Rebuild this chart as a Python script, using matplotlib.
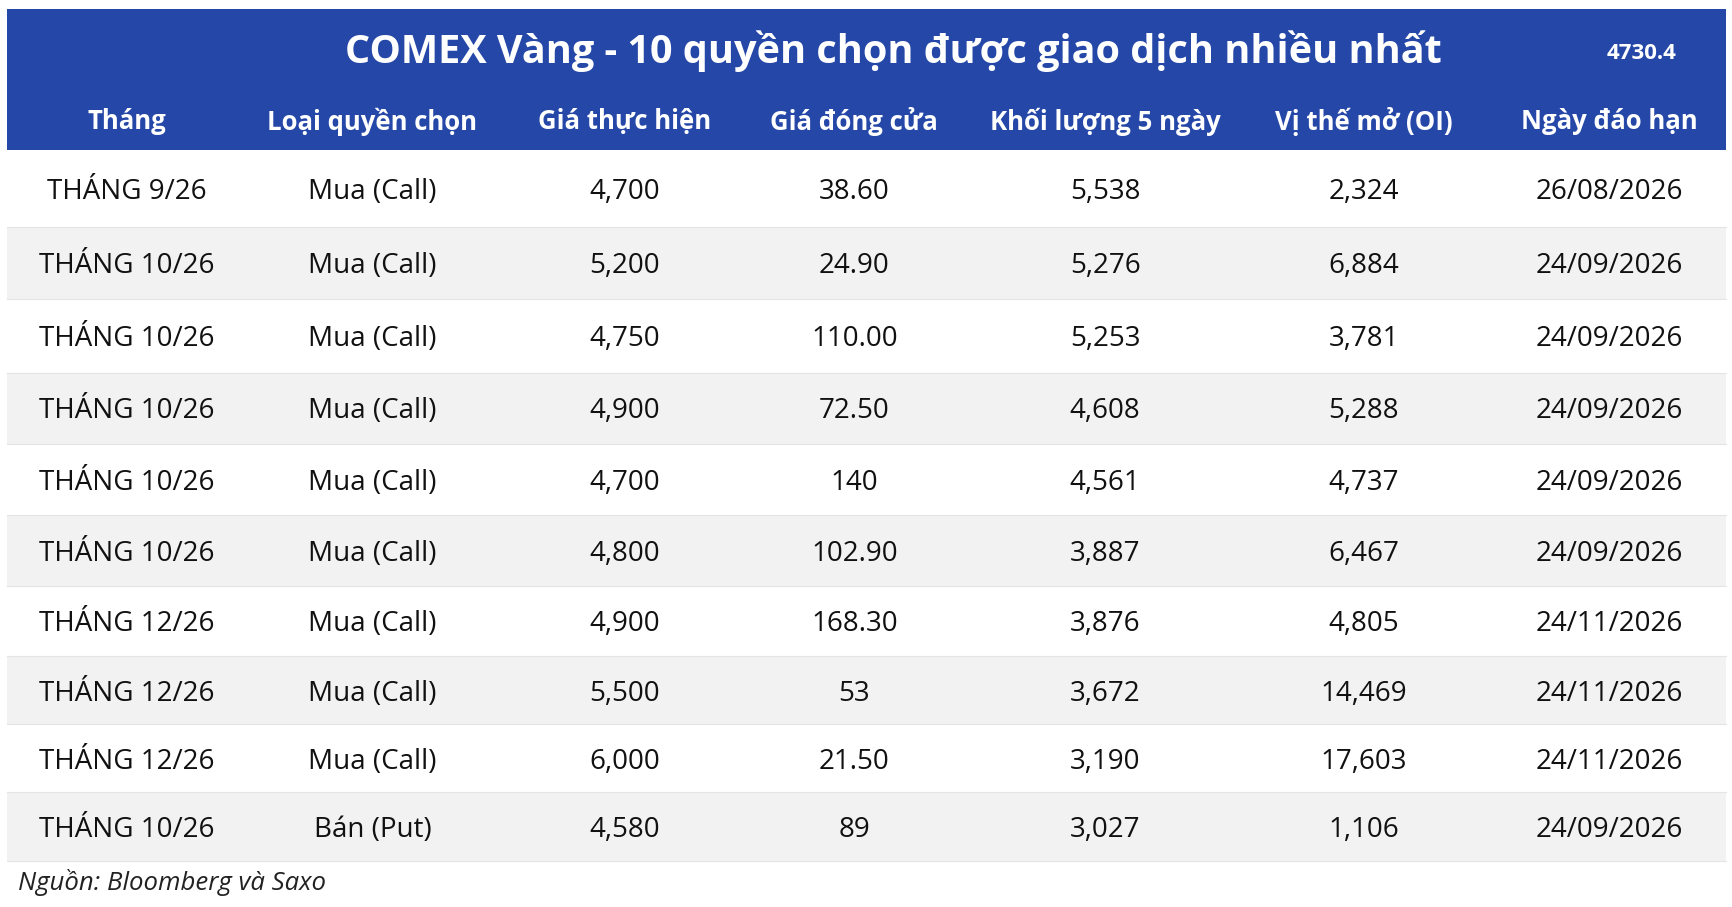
import matplotlib
matplotlib.use("Agg")
import matplotlib.pyplot as plt
from matplotlib.patches import Rectangle

title = "COMEX Vàng - 10 quyền chọn được giao dịch nhiều nhất"
price = "4730.4"
headers = ["Tháng", "Loại quyền chọn", "Giá thực hiện", "Giá đóng cửa", "Khối lượng 5 ngày", "Vị thế mở (OI)", "Ngày đáo hạn"]
months = ["THÁNG 9/26", "THÁNG 10/26", "THÁNG 10/26", "THÁNG 10/26", "THÁNG 10/26", "THÁNG 10/26", "THÁNG 12/26", "THÁNG 12/26", "THÁNG 12/26", "THÁNG 10/26"]
types = ["Mua (Call)"] * 9 + ["Bán (Put)"]
strikes = ["4,700", "5,200", "4,750", "4,900", "4,700", "4,800", "4,900", "5,500", "6,000", "4,580"]
closes = ["38.60", "24.90", "110.00", "72.50", "140", "102.90", "168.30", "53", "21.50", "89"]
volumes = ["5,538", "5,276", "5,253", "4,608", "4,561", "3,887", "3,876", "3,672", "3,190", "3,027"]
oi = ["2,324", "6,884", "3,781", "5,288", "4,737", "6,467", "4,805", "14,469", "17,603", "1,106"]
expiry = ["26/08/2026", "24/09/2026", "24/09/2026", "24/09/2026", "24/09/2026", "24/09/2026", "24/11/2026", "24/11/2026", "24/11/2026", "24/09/2026"]
source = "Nguồn: Bloomberg và Saxo"

W, H = 1568, 820
fig = plt.figure(figsize=(17.33, 9.07), dpi=100)
ax = fig.add_axes([0, 0, 1, 1])
ax.set_xlim(0, W); ax.set_ylim(H, 0); ax.axis("off")
FONT = "Open Sans"
blue = "#2447a8"
x0, x1 = 6, 1562
ax.add_patch(Rectangle((x0, 8), x1 - x0, 128, color=blue, lw=0))
ax.text(808, 46, title, color="white", fontsize=28.5, fontweight="bold", ha="center", va="center", family=FONT)
ax.text(1485, 48, price, color="white", fontsize=16, fontweight="bold", ha="center", va="center", family=FONT)
cx = [115, 337, 565, 773, 1000, 1234, 1456]
for x, h in zip(cx, headers):
    ax.text(x, 110, h, color="white", fontsize=18.5, fontweight="bold", ha="center", va="center", family=FONT)
edges = [136, 205, 270, 337, 401, 466, 530, 593, 655, 716, 778]
cols = [months, types, strikes, closes, volumes, oi, expiry]
for i in range(len(months)):
    top, bot = edges[i], edges[i + 1]
    ax.add_patch(Rectangle((x0, top), x1 - x0, bot - top, color="white" if i % 2 == 0 else "#f2f2f2", lw=0))
    ax.plot([x0, x1], [bot, bot], color="#e4e4e4", lw=0.8)
    for x, c in zip(cx, cols):
        ax.text(x, (top + bot) / 2 + 3, c[i], color="#111111", fontsize=20, ha="center", va="center", family=FONT)
ax.text(16, 798, source, fontsize=18.5, style="italic", ha="left", va="center", family=FONT, color="#222222")
fig.savefig("out.png", dpi=100, facecolor="white")
